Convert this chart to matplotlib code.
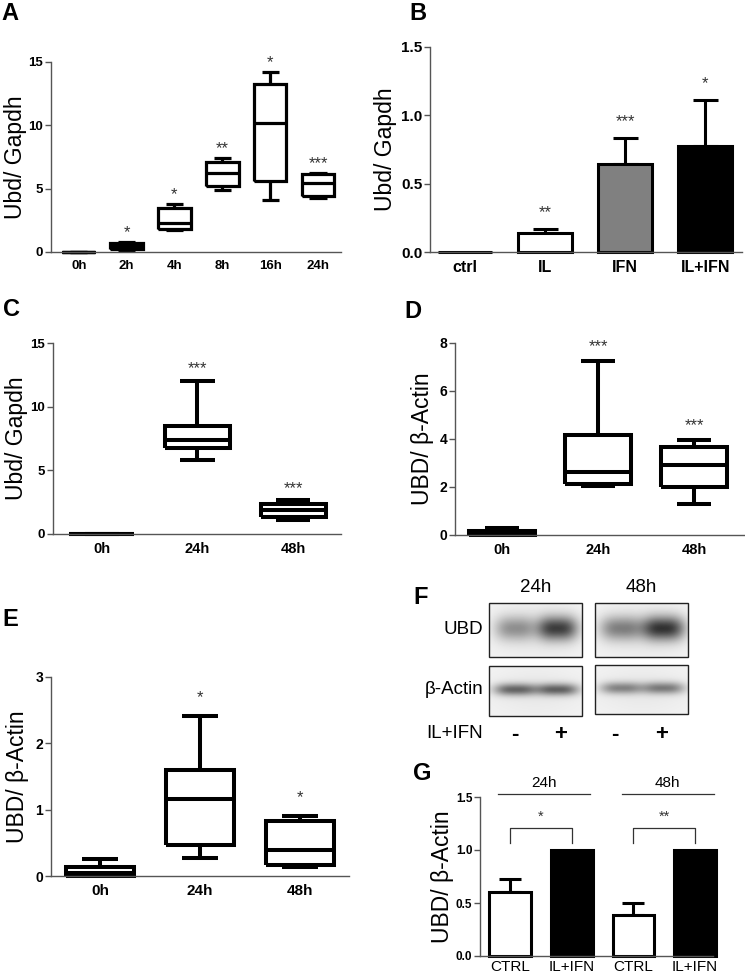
import numpy as np
import matplotlib
matplotlib.use("Agg")
import matplotlib.pyplot as plt
from matplotlib.patches import Rectangle

plt.rcParams['font.family'] = ['Liberation Sans', 'DejaVu Sans']

# ---------------- data ----------------
A_cats = ['0h', '2h', '4h', '8h', '16h', '24h']
A_whislo = [0.0, 0.15, 1.75, 4.9, 4.13, 4.29]
A_q1 = [0.0, 0.25, 1.85, 5.2, 5.58, 4.42]
A_med = [0.0, 0.5, 2.3, 6.2, 10.2, 5.45]
A_q3 = [0.0, 0.72, 3.5, 7.13, 13.3, 6.13]
A_whishi = [0.0, 0.8, 3.8, 7.4, 14.2, 6.26]
A_stars = ['', '*', '*', '**', '*', '***']
A_yticks = [0, 5, 10, 15]

B_cats = ['ctrl', 'IL', 'IFN', 'IL+IFN']
B_mean = [0.003, 0.141, 0.646, 0.776]
B_err = [0.0, 0.029, 0.188, 0.334]
B_colors = ['white', 'white', '#808080', 'black']
B_stars = ['', '**', '***', '*']
B_yticks = [0.0, 0.5, 1.0, 1.5]

C_cats = ['0h', '24h', '48h']
C_whislo = [0.0, 5.84, 1.07]
C_q1 = [0.0, 6.78, 1.31]
C_med = [0.0, 7.4, 1.91]
C_q3 = [0.0, 8.5, 2.36]
C_whishi = [0.0, 12.04, 2.64]
C_stars = ['', '***', '***']
C_yticks = [0, 5, 10, 15]

D_cats = ['0h', '24h', '48h']
D_whislo = [0.0, 2.04, 1.28]
D_q1 = [0.02, 2.13, 2.02]
D_med = [0.08, 2.64, 2.92]
D_q3 = [0.17, 4.17, 3.66]
D_whishi = [0.3, 7.26, 3.94]
D_stars = ['', '***', '***']
D_yticks = [0, 2, 4, 6, 8]

E_cats = ['0h', '24h', '48h']
E_whislo = [0.0, 0.27, 0.14]
E_q1 = [0.0, 0.46, 0.166]
E_med = [0.04, 1.16, 0.39]
E_q3 = [0.13, 1.6, 0.835]
E_whishi = [0.25, 2.41, 0.9]
E_stars = ['', '*', '*']
E_yticks = [0, 1, 2, 3]

F_times = ['24h', '48h']
F_treat = ['-', '+', '-', '+']
F_ubd = [0.42, 0.80, 0.50, 0.85]
F_actin = [0.62, 0.64, 0.48, 0.52]

G_cats = ['CTRL', 'IL+IFN', 'CTRL', 'IL+IFN']
G_mean = [0.60, 1.0, 0.385, 1.0]
G_err = [0.13, 0.0, 0.115, 0.0]
G_colors = ['white', 'black', 'white', 'black']
G_groups = ['24h', '48h']
G_stars = ['*', '**']
G_yticks = [0.0, 0.5, 1.0, 1.5]

# ---------------- figure ----------------
W, H = 745, 976
fig = plt.figure(figsize=(W / 100, H / 100), dpi=100)

SPINE = '#555555'
STAR_FS = 12


def ax_px(l, t, r, b):
    return fig.add_axes([l / W, 1 - b / H, (r - l) / W, (b - t) / H])


def style(ax, yticks, ylim, xlim, cats, ytfs, xtfs, xbold=True, yfmt=None):
    for s in ['top', 'right']:
        ax.spines[s].set_visible(False)
    for s in ['left', 'bottom']:
        ax.spines[s].set_color(SPINE)
        ax.spines[s].set_linewidth(1.0)
    ax.set_ylim(*ylim)
    ax.set_xlim(*xlim)
    ax.set_yticks(yticks)
    if yfmt:
        ax.set_yticklabels([yfmt.format(v) for v in yticks])
    ax.set_xticks(range(len(cats)))
    ax.set_xticklabels(cats, fontsize=xtfs, fontweight='bold' if xbold else 'normal')
    for lab in ax.get_yticklabels():
        lab.set_fontweight('bold')
        lab.set_fontsize(ytfs)
    ax.tick_params(axis='y', length=4, width=1, color=SPINE, pad=1.5)
    ax.tick_params(axis='x', length=0, pad=6)


def boxes(ax, whislo, q1, med, q3, whishi, lw):
    stats = [dict(whislo=a, q1=b, med=c, q3=d, whishi=e, fliers=[])
             for a, b, c, d, e in zip(whislo, q1, med, q3, whishi)]
    props = dict(color='black', linewidth=lw, solid_joinstyle='miter', solid_capstyle='butt')
    res = ax.bxp(stats, positions=list(range(len(stats))), widths=0.68,
                 capwidths=0.36, showfliers=False,
                 boxprops=props, whiskerprops=props, capprops=props,
                 medianprops=props, manage_ticks=False)
    for k in res:
        for art in res[k]:
            art.set_clip_on(False)


def stars(ax, labels, tops, off, fs=STAR_FS):
    for i, (s, t) in enumerate(zip(labels, tops)):
        if s:
            ax.text(i, t + off, s, ha='center', va='center', fontsize=fs, color='#333333')


def bars(ax, mean, err, colors, lw, capsize, width=0.67):
    x = np.arange(len(mean))
    ax.bar(x, mean, width=width, color=colors, edgecolor='black', linewidth=lw,
           zorder=2, clip_on=False)
    for xi, m, e in zip(x, mean, err):
        if e > 0:
            ax.errorbar([xi], [m], yerr=[[0], [e]], fmt='none', ecolor='black',
                        elinewidth=lw, capsize=capsize, capthick=lw, zorder=1,
                        clip_on=False)


YLAB = 16.5

# Panel A
axA = ax_px(51, 62, 341, 252)
boxes(axA, A_whislo, A_q1, A_med, A_q3, A_whishi, 2.3)
stars(axA, A_stars, A_whishi, 0.75)
style(axA, A_yticks, (0, 15), (-0.58, 5.48), A_cats, 9.5, 9.5)
axA.set_ylabel('Ubd/ Gapdh', fontsize=YLAB, labelpad=1)

# Panel B
axB = ax_px(430, 47, 742, 252)
bars(axB, B_mean, B_err, B_colors, 2.2, 9)
for i, (s, m, e) in enumerate(zip(B_stars, B_mean, B_err)):
    if s:
        axB.text(i, m + e + 0.12, s, ha='center', va='center', fontsize=STAR_FS, color='#333333')
style(axB, B_yticks, (0, 1.5), (-0.44, 3.46), B_cats, 11, 11.5, yfmt='{:.1f}')
axB.set_ylabel('Ubd/ Gapdh', fontsize=YLAB, labelpad=3)

# Panel C
axC = ax_px(53, 343, 341, 534)
boxes(axC, C_whislo, C_q1, C_med, C_q3, C_whishi, 2.9)
stars(axC, C_stars, C_whishi, 0.95)
style(axC, C_yticks, (0, 15), (-0.51, 2.5), C_cats, 9.5, 10.5)
axC.set_ylabel('Ubd/ Gapdh', fontsize=YLAB, labelpad=2)

# Panel D
axD = ax_px(455, 343, 744, 535)
boxes(axD, D_whislo, D_q1, D_med, D_q3, D_whishi, 2.9)
stars(axD, D_stars, D_whishi, 0.6)
style(axD, D_yticks, (0, 8), (-0.49, 2.52), D_cats, 10, 10.5)
axD.set_ylabel('UBD/ β-Actin', fontsize=YLAB, labelpad=4)

# Panel E
axE = ax_px(51, 677, 349, 876)
boxes(axE, E_whislo, E_q1, E_med, E_q3, E_whishi, 2.9)
stars(axE, E_stars, E_whishi, 0.28)
style(axE, E_yticks, (0, 3), (-0.49, 2.49), E_cats, 10, 11)
axE.set_ylabel('UBD/ β-Actin', fontsize=YLAB, labelpad=5)

# Panel G
axG = ax_px(480, 797, 713, 956)
bars(axG, G_mean, G_err, G_colors, 2.2, 8, width=0.68)
style(axG, G_yticks, (0, 1.5), (-0.49, 3.29), G_cats, 8.5, 11, xbold=False, yfmt='{:.1f}')
axG.tick_params(axis='x', pad=3)
axG.set_ylabel('UBD/ β-Actin', fontsize=YLAB, labelpad=1)
for gi, (g, s) in enumerate(zip(G_groups, G_stars)):
    x0 = 2 * gi
    axG.plot([x0 - 0.19, x0 + 1.3], [1.53, 1.53], color='#333333', lw=0.9, clip_on=False)
    axG.text(x0 + 0.55, 1.635, g, ha='center', va='center', fontsize=11)
    axG.plot([x0, x0, x0 + 1, x0 + 1], [1.065, 1.205, 1.205, 1.065], color='#333333',
             lw=0.9, clip_on=False)
    axG.text(x0 + 0.5, 1.31, s, ha='center', va='center', fontsize=10.5, color='#333333')

# ---------------- overlay (pixel coords) ----------------
ov = fig.add_axes([0, 0, 1, 1])
ov.set_xlim(0, W)
ov.set_ylim(H, 0)
ov.axis('off')
ov.patch.set_visible(False)

for lab, (x, y) in zip('ABCDEFG', [(10, 14), (418, 14), (11, 310), (413, 312),
                                     (10, 620), (421, 597), (422, 773)]):
    ov.text(x, y, lab, ha='center', va='center', fontsize=17, fontweight='bold')


def blot(x0, y0, x1, y1, intens, sx, sy):
    w, h = int(x1 - x0), int(y1 - y0)
    yy, xx = np.mgrid[0:h, 0:w]
    img = np.full((h, w), 0.96)
    img -= 0.05 * np.exp(-((xx - w / 2) / (0.6 * w)) ** 2) * np.exp(-((yy - h / 2) / (0.6 * h)) ** 2)
    cy = 0.46 * h
    for frac, it in zip([0.28, 0.73], intens):
        cx = frac * w
        prof = np.exp(-(np.abs(xx - cx) / sx) ** 3.0) * np.exp(-((yy - cy) / sy) ** 2)
        img -= 0.85 * it * prof
    img = np.clip(img, 0, 1)
    ov.imshow(img, cmap='gray', vmin=0, vmax=1, extent=(x0, x1, y1, y0),
              interpolation='bilinear', aspect='auto', zorder=1)
    ov.add_patch(Rectangle((x0, y0), x1 - x0, y1 - y0, fill=False, ec='#222222', lw=1.0, zorder=2))


blot(489, 603, 582, 657, F_ubd[0:2], 20, 12)
blot(595, 603, 688, 657, F_ubd[2:4], 21, 12)
blot(489, 666, 582, 716, F_actin[0:2], 21, 6)
blot(595, 665, 688, 714, F_actin[2:4], 21, 6)
ov.set_xlim(0, W)
ov.set_ylim(H, 0)

ov.text(536, 587, F_times[0], ha='center', va='center', fontsize=13.5)
ov.text(641, 587, F_times[1], ha='center', va='center', fontsize=13.5)
ov.text(483, 630, 'UBD', ha='right', va='center', fontsize=13.5)
ov.text(483, 689, 'β-Actin', ha='right', va='center', fontsize=13.5)
ov.text(483, 734, 'IL+IFN', ha='right', va='center', fontsize=13.5)
for xp, s in zip([515, 561, 615, 662], F_treat):
    ov.text(xp, 734, s, ha='center', va='center', fontsize=16, fontweight='bold')

fig.savefig('out.png', dpi=100)
